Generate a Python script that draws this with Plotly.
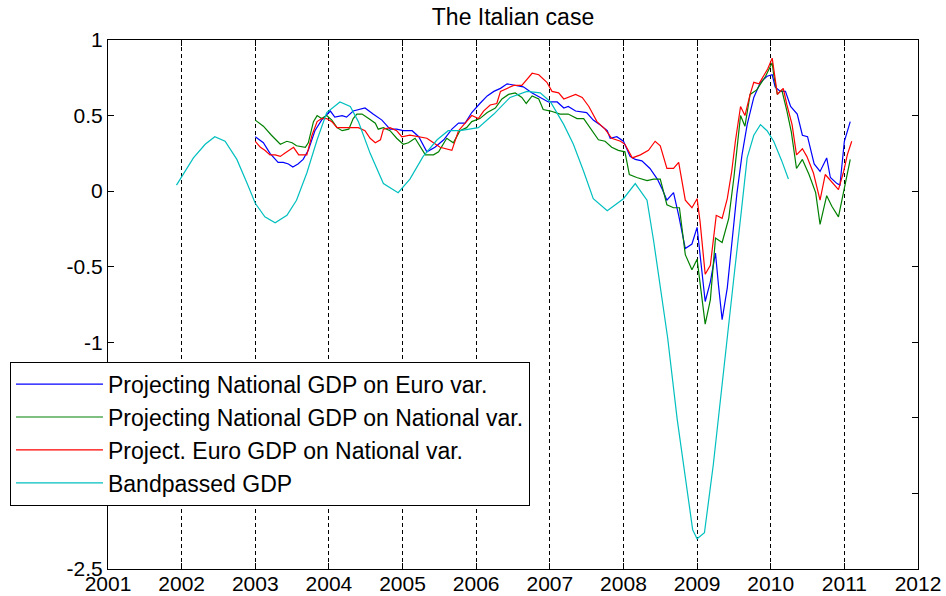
import plotly.graph_objects as go

# ---------------- data (decimal years, values) ----------------
blue_x = [2003.00, 2003.11, 2003.20, 2003.31, 2003.38, 2003.45, 2003.51, 2003.58, 2003.65, 2003.72,
          2003.81, 2003.90, 2004.02, 2004.08, 2004.18, 2004.24, 2004.33, 2004.49, 2004.60, 2004.72,
          2004.83, 2004.92, 2005.01, 2005.13, 2005.22, 2005.33, 2005.44, 2005.56, 2005.67, 2005.76,
          2005.85, 2005.94, 2006.05, 2006.15, 2006.24, 2006.33, 2006.42, 2006.53, 2006.64, 2006.76,
          2006.87, 2006.98, 2007.10, 2007.19, 2007.25, 2007.35, 2007.50, 2007.59, 2007.68, 2007.78,
          2007.82, 2007.91, 2008.00, 2008.09, 2008.16, 2008.25, 2008.36, 2008.46, 2008.52, 2008.59,
          2008.68, 2008.75, 2008.84, 2008.93, 2009.00, 2009.07, 2009.11, 2009.18, 2009.25, 2009.29,
          2009.34, 2009.41, 2009.47, 2009.54, 2009.61, 2009.68, 2009.77, 2009.86, 2009.95, 2010.02,
          2010.06, 2010.13, 2010.20, 2010.27, 2010.36, 2010.43, 2010.50, 2010.59, 2010.67, 2010.76,
          2010.81, 2010.90, 2010.94, 2011.00, 2011.08]
blue_y = [0.36, 0.32, 0.25, 0.19, 0.19, 0.18, 0.16, 0.18, 0.21, 0.27,
          0.40, 0.47, 0.53, 0.49, 0.50, 0.49, 0.53, 0.55, 0.51, 0.47,
          0.41, 0.41, 0.40, 0.40, 0.36, 0.26, 0.29, 0.34, 0.41, 0.45,
          0.45, 0.52, 0.58, 0.63, 0.66, 0.68, 0.71, 0.70, 0.69, 0.65,
          0.62, 0.59, 0.59, 0.55, 0.56, 0.53, 0.52, 0.47, 0.44, 0.40,
          0.35, 0.36, 0.33, 0.23, 0.21, 0.20, 0.15, 0.08, 0.02, -0.06,
          -0.01, -0.16, -0.38, -0.35, -0.24, -0.53, -0.73, -0.60, -0.41, -0.62,
          -0.85, -0.64, -0.35, -0.02, 0.24, 0.44, 0.62, 0.72, 0.76, 0.77,
          0.69, 0.66, 0.66, 0.56, 0.51, 0.37, 0.36, 0.18, 0.13, 0.22,
          0.09, 0.05, 0.04, 0.33, 0.46]

green_x = [2003.00, 2003.11, 2003.22, 2003.34, 2003.43, 2003.50, 2003.56, 2003.68, 2003.72, 2003.79,
           2003.84, 2003.90, 2003.97, 2004.04, 2004.11, 2004.18, 2004.27, 2004.33, 2004.38, 2004.45,
           2004.54, 2004.63, 2004.67, 2004.74, 2004.83, 2004.92, 2005.01, 2005.08, 2005.17, 2005.31,
           2005.42, 2005.49, 2005.60, 2005.69, 2005.78, 2005.87, 2005.94, 2006.05, 2006.15, 2006.26,
           2006.35, 2006.44, 2006.53, 2006.62, 2006.68, 2006.76, 2006.85, 2006.91, 2007.01, 2007.14,
           2007.25, 2007.37, 2007.46, 2007.57, 2007.66, 2007.75, 2007.84, 2007.93, 2008.02, 2008.08,
           2008.18, 2008.32, 2008.41, 2008.50, 2008.59, 2008.68, 2008.76, 2008.84, 2008.93, 2009.00,
           2009.07, 2009.11, 2009.18, 2009.25, 2009.34, 2009.43, 2009.50, 2009.59, 2009.65, 2009.72,
           2009.81, 2009.93, 2010.02, 2010.04, 2010.09, 2010.15, 2010.22, 2010.28, 2010.35, 2010.43,
           2010.52, 2010.61, 2010.67, 2010.76, 2010.83, 2010.92, 2011.00, 2011.08]
green_y = [0.47, 0.43, 0.37, 0.31, 0.33, 0.32, 0.30, 0.29, 0.32, 0.46,
           0.50, 0.48, 0.50, 0.47, 0.42, 0.40, 0.41, 0.48, 0.51, 0.51,
           0.48, 0.45, 0.41, 0.42, 0.40, 0.35, 0.31, 0.32, 0.35, 0.24,
           0.24, 0.26, 0.35, 0.32, 0.40, 0.42, 0.46, 0.48, 0.52, 0.55,
           0.61, 0.64, 0.65, 0.62, 0.58, 0.63, 0.61, 0.54, 0.53, 0.51,
           0.51, 0.48, 0.48, 0.40, 0.34, 0.33, 0.29, 0.27, 0.26, 0.11,
           0.09, 0.07, 0.08, 0.08, -0.09, -0.11, -0.11, -0.42, -0.52, -0.45,
           -0.71, -0.88, -0.72, -0.31, -0.34, -0.18, 0.09, 0.50, 0.43, 0.64,
           0.67, 0.76, 0.85, 0.77, 0.64, 0.67, 0.53, 0.39, 0.15, 0.21,
           0.11, -0.01, -0.22, -0.03, -0.10, -0.17, 0.02, 0.21]

red_x = [2003.00, 2003.07, 2003.13, 2003.20, 2003.27, 2003.34, 2003.40, 2003.47, 2003.52, 2003.59,
         2003.70, 2003.77, 2003.84, 2003.90, 2003.97, 2004.04, 2004.11, 2004.18, 2004.29, 2004.40,
         2004.49, 2004.56, 2004.63, 2004.70, 2004.74, 2004.83, 2004.92, 2004.99, 2005.10, 2005.24,
         2005.33, 2005.42, 2005.51, 2005.67, 2005.76, 2005.85, 2005.94, 2006.03, 2006.10, 2006.19,
         2006.28, 2006.33, 2006.42, 2006.51, 2006.62, 2006.69, 2006.76, 2006.85, 2006.96, 2007.03,
         2007.12, 2007.19, 2007.25, 2007.35, 2007.44, 2007.53, 2007.64, 2007.75, 2007.84, 2007.96,
         2008.02, 2008.12, 2008.23, 2008.34, 2008.43, 2008.50, 2008.59, 2008.68, 2008.75, 2008.84,
         2008.93, 2009.00, 2009.04, 2009.11, 2009.18, 2009.26, 2009.34, 2009.41, 2009.47, 2009.52,
         2009.59, 2009.65, 2009.72, 2009.77, 2009.84, 2009.90, 2009.96, 2010.02, 2010.05, 2010.09,
         2010.17, 2010.22, 2010.29, 2010.35, 2010.43, 2010.49, 2010.58, 2010.67, 2010.74, 2010.81,
         2010.92, 2010.99, 2011.04, 2011.10]
red_y = [0.33, 0.29, 0.27, 0.24, 0.24, 0.23, 0.25, 0.27, 0.29, 0.24,
         0.24, 0.37, 0.46, 0.48, 0.48, 0.46, 0.42, 0.42, 0.42, 0.42,
         0.40, 0.35, 0.32, 0.34, 0.41, 0.42, 0.40, 0.36, 0.37, 0.36,
         0.35, 0.32, 0.29, 0.27, 0.40, 0.45, 0.50, 0.48, 0.53, 0.57,
         0.58, 0.66, 0.68, 0.70, 0.70, 0.74, 0.78, 0.77, 0.72, 0.66,
         0.65, 0.61, 0.62, 0.64, 0.62, 0.56, 0.46, 0.41, 0.35, 0.33,
         0.31, 0.22, 0.24, 0.27, 0.33, 0.30, 0.15, 0.15, 0.19, -0.06,
         -0.11, -0.05, -0.20, -0.55, -0.49, -0.16, -0.18, -0.05, 0.13, 0.33,
         0.56, 0.50, 0.64, 0.72, 0.71, 0.76, 0.81, 0.88, 0.79, 0.64,
         0.68, 0.57, 0.44, 0.24, 0.28, 0.23, 0.12, -0.06, 0.11, 0.07,
         0.01, 0.13, 0.24, 0.33]

cyan_x = [2001.93, 2002.02, 2002.16, 2002.32, 2002.45, 2002.59, 2002.75, 2002.89, 2003.00, 2003.13,
          2003.27, 2003.43, 2003.56, 2003.70, 2003.84, 2003.97, 2004.15, 2004.29, 2004.40, 2004.56,
          2004.74, 2004.94, 2005.10, 2005.28, 2005.47, 2005.62, 2005.78, 2006.03, 2006.24, 2006.46,
          2006.69, 2006.87, 2007.01, 2007.19, 2007.32, 2007.46, 2007.59, 2007.78, 2008.00, 2008.16,
          2008.32, 2008.41, 2008.52, 2008.60, 2008.73, 2008.94, 2009.00, 2009.10, 2009.22, 2009.36,
          2009.41, 2009.50, 2009.59, 2009.68, 2009.77, 2009.86, 2009.95, 2010.04, 2010.15, 2010.24]
cyan_y = [0.04, 0.11, 0.22, 0.31, 0.36, 0.33, 0.21, 0.05, -0.08, -0.17,
          -0.21, -0.16, -0.06, 0.12, 0.34, 0.52, 0.59, 0.56, 0.46, 0.25,
          0.05, -0.01, 0.08, 0.23, 0.34, 0.40, 0.40, 0.42, 0.51, 0.62,
          0.66, 0.65, 0.59, 0.44, 0.31, 0.13, -0.05, -0.13, -0.05, 0.05,
          -0.06, -0.33, -0.71, -0.97, -1.51, -2.24, -2.30, -2.26, -1.81, -1.17,
          -0.94, -0.57, -0.18, 0.22, 0.37, 0.44, 0.40, 0.33, 0.20, 0.08]

series_names = ["Projecting National GDP on Euro var.",
                "Projecting National GDP on National var.",
                "Project. Euro GDP on National var.",
                "Bandpassed GDP"]

x_tick_vals = [2001, 2002, 2003, 2004, 2005, 2006, 2007, 2008, 2009, 2010, 2011, 2012]
x_tick_text = ["2001", "2002", "2003", "2004", "2005", "2006", "2007", "2008", "2009", "2010", "2011", "2012"]
y_tick_vals = [1, 0.5, 0, -0.5, -1, -1.5, -2, -2.5]
y_tick_text = ["1", "0.5", "0", "-0.5", "-1", "-1.5", "-2", "-2.5"]

title_text = "The Italian case"

# ---------------- figure ----------------
FONT = "Liberation Sans, Arial, sans-serif"
colors = ["#0000FF", "#008000", "#FF0000", "#00BFBF"]
xs = [blue_x, green_x, red_x, cyan_x]
ys = [blue_y, green_y, red_y, cyan_y]

fig = go.Figure()
for name, x, y, c in zip(series_names, xs, ys, colors):
    fig.add_trace(go.Scatter(x=x, y=y, mode="lines", name=name,
                             line=dict(color=c, width=1.2)))

axis_common = dict(
    showline=True, linecolor="black", linewidth=1, mirror="ticks",
    ticks="inside", ticklen=6, tickcolor="black", tickwidth=1,
    zeroline=False, tickfont=dict(family=FONT, size=21, color="black"),
)

fig.update_layout(
    width=946, height=596,
    margin=dict(l=108, r=28, t=40, b=27, autoexpand=False),
    paper_bgcolor="white", plot_bgcolor="white",
    title=dict(text=title_text, x=0.5, xref="paper", xanchor="center",
               y=1 - 17 / 596, yref="container", yanchor="middle",
               font=dict(family=FONT, size=23, color="black")),
    showlegend=True,
    legend=dict(x=-0.121, y=0.392, xanchor="left", yanchor="top",
                bgcolor="white", bordercolor="black", borderwidth=1,
                font=dict(family=FONT, size=23, color="black"),
                itemwidth=87, tracegroupgap=0),
    xaxis=dict(range=[2001, 2012], tickvals=x_tick_vals, ticktext=x_tick_text,
               showgrid=True, gridcolor="black", gridwidth=1, griddash="4px,3px",
               ticklabelstandoff=-4, **axis_common),
    yaxis=dict(range=[-2.5, 1], tickvals=y_tick_vals, ticktext=y_tick_text,
               showgrid=False, **axis_common),
)

fig.write_html("out.html", config={"displayModeBar": False},
               post_script="document.body.style.margin='0px';")
